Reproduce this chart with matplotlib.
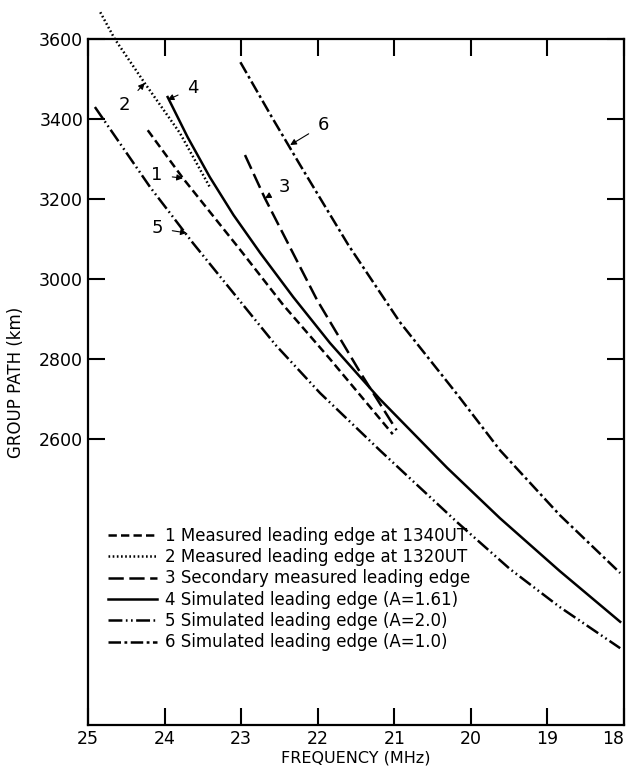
import matplotlib
matplotlib.use('Agg')
import matplotlib.pyplot as plt

plt.rcParams['font.family'] = ['DejaVu Sans']
plt.rcParams['lines.scale_dashes'] = False

# curve data (frequency MHz, group path km)
f1 = [24.22, 23.76, 23.0, 22.45, 21.84, 21.02]
p1 = [3372, 3252, 3070, 2935, 2800, 2612]

f2 = [24.84, 24.65, 24.26, 23.8, 23.41]
p2 = [3667, 3600, 3490, 3365, 3230]

f3 = [22.95, 22.69, 22.23, 22.01, 21.45, 20.97]
p3 = [3310, 3202, 3030, 2948, 2768, 2622]

f4 = [23.96, 23.7, 23.41, 23.1, 22.75, 22.32, 21.84, 21.19, 20.31, 19.62, 18.84, 18.05]
p4 = [3455, 3355, 3255, 3160, 3065, 2955, 2840, 2700, 2528, 2402, 2270, 2143]

f5 = [24.91, 24.19, 23.63, 22.55, 21.97, 21.19, 20.18, 19.49, 18.84, 18.05]
p5 = [3430, 3230, 3090, 2835, 2715, 2572, 2392, 2275, 2180, 2077]

f6 = [23.01, 22.6, 22.23, 21.6, 20.93, 20.18, 19.62, 18.84, 18.05]
p6 = [3542, 3405, 3285, 3085, 2893, 2712, 2572, 2410, 2265]

labels = ['1 Measured leading edge at 1340UT',
          '2 Measured leading edge at 1320UT',
          '3 Secondary measured leading edge',
          '4 Simulated leading edge (A=1.61)',
          '5 Simulated leading edge (A=2.0)',
          '6 Simulated leading edge (A=1.0)']

# curve number labels: (text pos, arrow tip)
tags = [('1', (24.10, 3260), (23.76, 3252)),
        ('2', (24.52, 3435), (24.26, 3490)),
        ('3', (22.43, 3230), (22.69, 3202)),
        ('4', (23.63, 3477), (23.96, 3448)),
        ('5', (24.10, 3127), (23.71, 3115)),
        ('6', (21.93, 3385), (22.36, 3335))]

xticks = [25, 24, 23, 22, 21, 20, 19, 18]
yticks = [2600, 2800, 3000, 3200, 3400, 3600]

fig = plt.figure(figsize=(6.3, 7.73), dpi=100)
ax = fig.add_axes([0.1397, 0.0621, 0.8508, 0.8874])

lw = 1.8
l1, = ax.plot(f1, p1, color='black', lw=lw, dashes=(6, 3))
l2, = ax.plot(f2, p2, color='black', lw=lw, dashes=(1.2, 1.8), clip_on=False)
l3, = ax.plot(f3, p3, color='black', lw=lw, dashes=(11, 4))
l4, = ax.plot(f4, p4, color='black', lw=lw)
l5, = ax.plot(f5, p5, color='black', lw=lw, dashes=(10, 2.5, 1.2, 2.5, 1.2, 2.5))
l6, = ax.plot(f6, p6, color='black', lw=lw, dashes=(9, 2.5, 2, 2.5))

for t, xy_text, xy_tip in tags:
    ax.annotate(t, xy=xy_tip, xytext=xy_text, fontsize=13,
                ha='center', va='center',
                arrowprops=dict(arrowstyle='-|>', color='black', lw=0.8,
                                mutation_scale=9, shrinkA=5, shrinkB=0))

ax.set_xlim(25, 18)
ax.set_ylim(1885, 3600)
ax.set_xticks(xticks)
ax.set_yticks(yticks)
ax.tick_params(direction='in', length=12, width=1.5, labelsize=12.5,
               top=True, right=True, pad=3.5)
ax.get_xticklabels()[-1].set_horizontalalignment('right')
for s in ax.spines.values():
    s.set_linewidth(1.6)

ax.set_xlabel('FREQUENCY (MHz)', fontsize=11.5)
ax.set_ylabel('GROUP PATH (km)', fontsize=12)
ax.xaxis.set_label_coords(0.5, -0.037)
ax.yaxis.set_label_coords(-0.1175, 0.5)

ax.legend([l1, l2, l3, l4, l5, l6], labels, loc='upper left',
          bbox_to_anchor=(0.037, 0.289), frameon=False, fontsize=12,
          borderpad=0, borderaxespad=0, labelspacing=0.2,
          handlelength=2.95, handletextpad=0.48)

fig.savefig('out.png', dpi=100)
